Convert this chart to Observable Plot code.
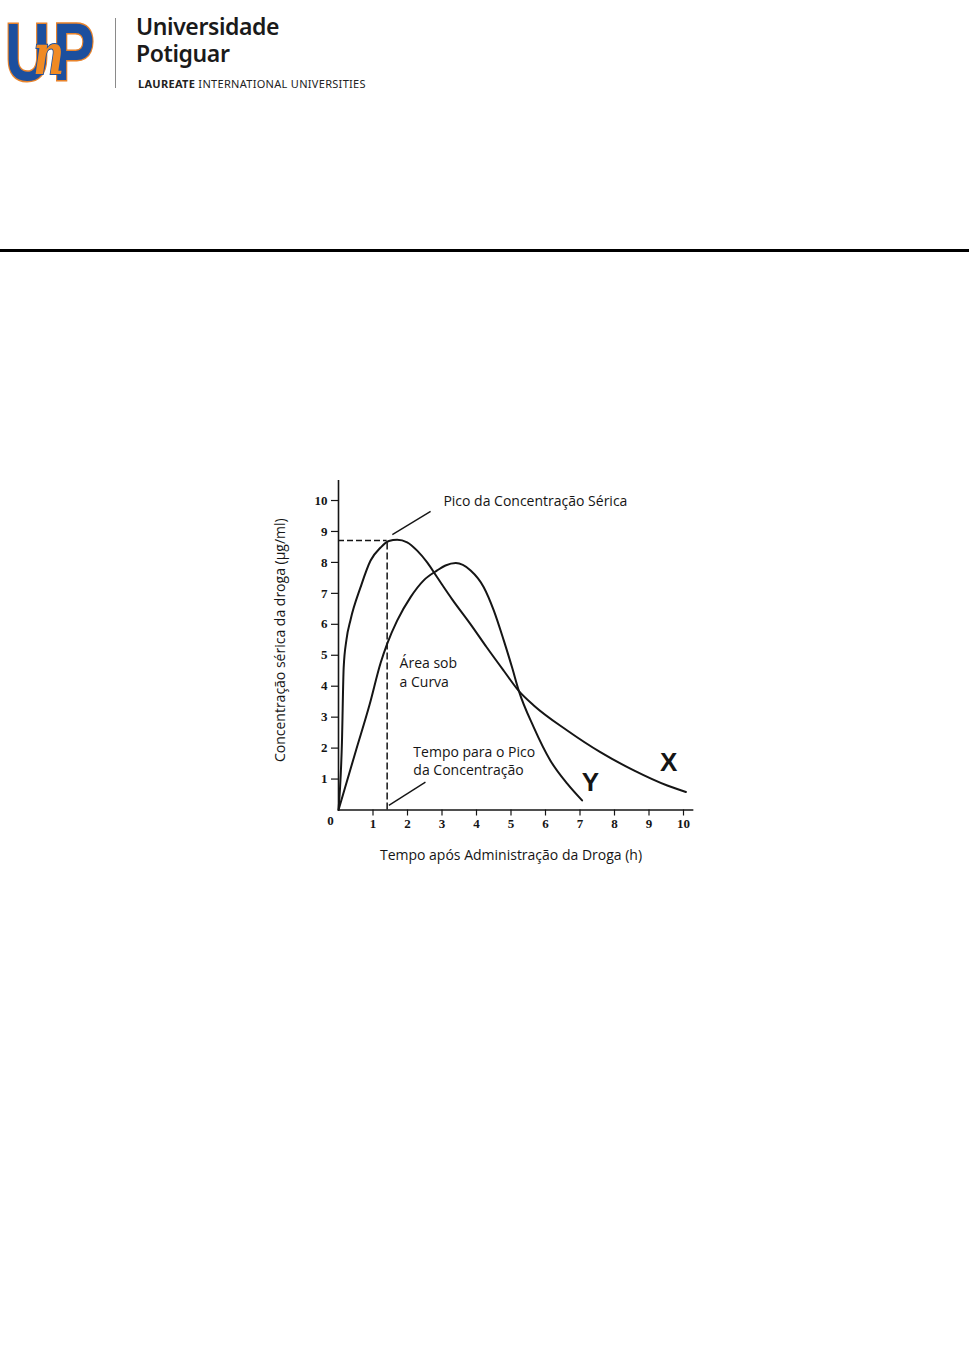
<!DOCTYPE html>
<html>
<head>
<meta charset="utf-8">
<script src="https://cdn.jsdelivr.net/npm/d3@7"></script>
<script src="https://cdn.jsdelivr.net/npm/@observablehq/plot@0.6"></script>
<style>
  html, body { margin: 0; padding: 0; background: #fff; }
  body { width: 969px; height: 1360px; position: relative; overflow: hidden; }
  .abs { position: absolute; white-space: nowrap; }
  .logo { font-family: "Liberation Sans", sans-serif; font-weight: 900; font-size: 82px; line-height: 82px;
          color: #1c4f9e; -webkit-text-stroke: 3px #e8832b; paint-order: stroke fill; transform: scaleX(0.76); transform-origin: left top; }
  .logo .nbox { display: inline-block; width: 4px; position: relative; }
  .logo .n { position: absolute; left: -22px; bottom: -2px; font-family: "DejaVu Serif", serif; font-weight: bold; font-style: italic;
             font-size: 56px; line-height: 56px; color: #f08a24; -webkit-text-stroke: 2px #1c4f9e; paint-order: stroke fill; }
  .uni { font-family: "Noto Sans", sans-serif; font-weight: 600; font-size: 23px; color: #1a1a1a; line-height: 27px; letter-spacing: -0.4px; }
  .laur { font-family: "Noto Sans", sans-serif; font-size: 11px; color: #222; line-height: 11px; letter-spacing: 0.3px; }
  #chart { position: absolute; left: 260px; top: 470px; }
</style>
</head>
<body>
<div class="abs logo" style="left:5px;top:11px;">U<span class="nbox"><span class="n">n</span></span>P</div>
<div class="abs" style="left:115px;top:18px;width:1px;height:70px;background:#8a8a8a;"></div>
<div class="abs uni" style="left:136px;top:13px;">Universidade<br>Potiguar</div>
<div class="abs laur" style="left:138px;top:78px;"><b>LAUREATE</b> INTERNATIONAL UNIVERSITIES</div>
<div class="abs" style="left:0;top:249px;width:969px;height:3px;background:#000;"></div>
<div id="chart"></div>
<script>
// Tick values
const xTicks = [1, 2, 3, 4, 5, 6, 7, 8, 9, 10];
const yTicks = [1, 2, 3, 4, 5, 6, 7, 8, 9, 10];

// Curve X (fast absorption, long tail) — time (h), concentration (µg/ml)
const xTime = [0, 0.1, 0.15, 0.23, 0.35, 0.64, 0.93, 1.22, 1.46, 1.70, 1.99, 2.28, 2.57, 2.86, 3.3, 3.83, 4.3, 4.79, 5.23, 5.66, 6.63, 7.59, 8.56, 9.53, 10.07];
const xConc = [0, 2.2, 4.6, 5.5, 6.15, 7.2, 8.06, 8.48, 8.69, 8.73, 8.65, 8.38, 8.0, 7.52, 6.8, 6.0, 5.25, 4.5, 3.84, 3.38, 2.57, 1.87, 1.28, 0.79, 0.58];

// Curve Y (slower absorption, faster decline)
const yTime = [0, 0.5, 0.9, 1.22, 1.41, 1.70, 2.09, 2.47, 2.86, 3.1, 3.4, 3.83, 4.21, 4.50, 4.79, 5.03, 5.23, 5.66, 6.14, 6.63, 7.06];
const yConc = [0, 1.9, 3.4, 4.75, 5.37, 6.12, 6.88, 7.42, 7.74, 7.9, 7.98, 7.74, 7.2, 6.45, 5.48, 4.61, 3.84, 2.67, 1.6, 0.85, 0.31];

// Peak guide (dashed) : time to peak and peak concentration
const peakTime = [1.41];
const peakConc = [8.71];

// Annotations
const noteText = ["Pico da Concentração Sérica", "Área sob\na Curva", "Tempo para o Pico\nda Concentração"];
const noteX = [3.04, 1.77, 2.17];
const noteY = [10.0, 4.47, 1.6];
const leaderX1 = [1.56, 1.46];
const leaderY1 = [8.9, 0.15];
const leaderX2 = [2.67, 2.52];
const leaderY2 = [9.65, 0.9];
const seriesLabels = ["X", "Y"];
const seriesLabelX = [9.57, 7.30];
const seriesLabelY = [1.54, 0.89];

const xTitle = "Tempo após Administração da Droga (h)";
const yTitle = "Concentração sérica da droga (µg/ml)";

const curveX = xTime.map((t, i) => ({t, c: xConc[i]}));
const curveY = yTime.map((t, i) => ({t, c: yConc[i]}));
const notes = noteText.map((s, i) => ({s, x: noteX[i], y: noteY[i]}));
const leaders = leaderX1.map((v, i) => ({x1: v, y1: leaderY1[i], x2: leaderX2[i], y2: leaderY2[i]}));
const labels = seriesLabels.map((s, i) => ({s, x: seriesLabelX[i], y: seriesLabelY[i]}));

const ink = "#151515";
const sans = "'Open Sans', 'Noto Sans', sans-serif";
const serif = "'Liberation Serif', serif";

const chart = Plot.plot({
  width: 450,
  height: 410,
  marginLeft: 78,
  marginRight: 16.65,
  marginTop: 9.9,
  marginBottom: 70.5,
  x: {domain: [0, 10.3]},
  y: {domain: [0, 10.65]},
  style: {background: "white", color: ink, fontFamily: serif},
  marks: [
    Plot.ruleX([0], {stroke: ink, strokeWidth: 1.6}),
    Plot.ruleY([0], {stroke: ink, strokeWidth: 1.6}),
    Plot.axisY({ticks: yTicks, tickSize: 7, tickPadding: 4, label: null, fontSize: 13, fontWeight: "bold", fontFamily: serif, stroke: ink, strokeWidth: 1.2}),
    Plot.axisX({ticks: xTicks, tickSize: 6, tickPadding: 3, label: null, fontSize: 13, fontWeight: "bold", fontFamily: serif, stroke: ink, strokeWidth: 1.2}),
    Plot.text(["0"], {x: 0, y: 0, dx: -8, dy: 11, fontSize: 13, fontWeight: "bold", fontFamily: serif, fill: ink}),
    Plot.ruleY(peakConc, {x1: 0, x2: peakTime[0], stroke: ink, strokeWidth: 1.5, strokeDasharray: "6,3"}),
    Plot.ruleX(peakTime, {y1: 0, y2: peakConc[0], stroke: ink, strokeWidth: 1.5, strokeDasharray: "7,3"}),
    Plot.line(curveX, {x: "t", y: "c", curve: "monotone-x", stroke: ink, strokeWidth: 2}),
    Plot.line(curveY, {x: "t", y: "c", curve: "monotone-x", stroke: ink, strokeWidth: 2}),
    Plot.link(leaders, {x1: "x1", y1: "y1", x2: "x2", y2: "y2", stroke: ink, strokeWidth: 1.4}),
    Plot.text(notes, {x: "x", y: "y", text: "s", textAnchor: "start", lineAnchor: "middle", lineHeight: 1.3, fontSize: 14, fontFamily: sans, fill: ink}),
    Plot.text(labels, {x: "x", y: "y", text: "s", fontSize: 26, fontWeight: "bold", fontFamily: "'Liberation Sans', sans-serif", fill: ink}),
    Plot.text([xTitle], {x: 5.0, frameAnchor: "bottom", lineAnchor: "middle", dy: 45.5, fontSize: 14, fontFamily: sans, fill: ink}),
    Plot.text([yTitle], {frameAnchor: "left", textAnchor: "middle", lineAnchor: "middle", dx: -58, dy: -5, rotate: -90, fontSize: 14, fontFamily: sans, fill: ink})
  ]
});
document.getElementById("chart").appendChild(chart);
</script>
</body>
</html>
